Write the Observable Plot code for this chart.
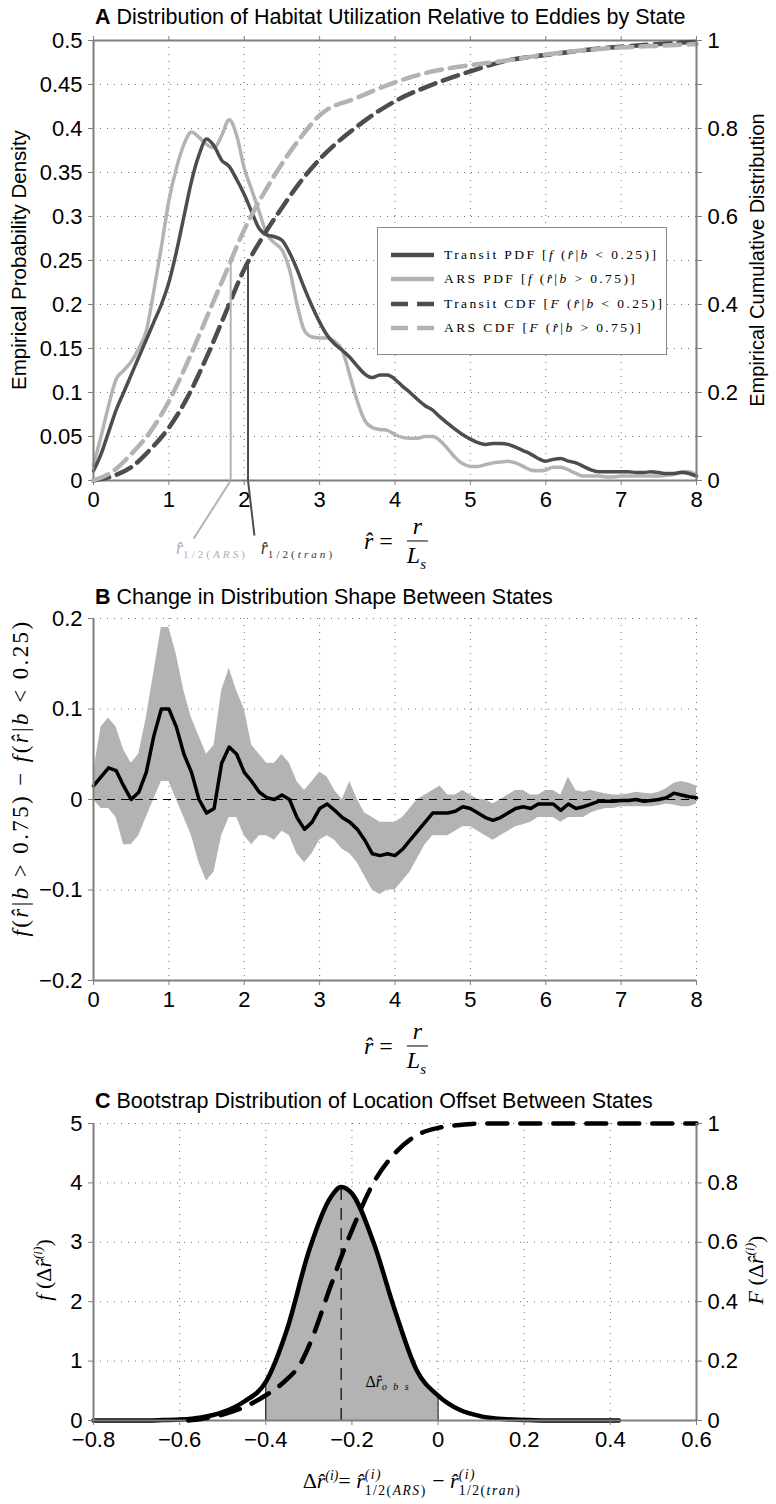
<!DOCTYPE html>
<html>
<head>
<meta charset="utf-8">
<script src="https://cdn.jsdelivr.net/npm/d3@7"></script>
<script src="https://cdn.jsdelivr.net/npm/@observablehq/plot@0.6"></script>
<style>
html,body{margin:0;padding:0;background:#fff;}
#root{position:relative;width:776px;height:1504px;overflow:hidden;background:#fff;}
.t{position:absolute;white-space:nowrap;font-family:"Liberation Sans",Arial,sans-serif;font-size:21.5px;color:#000;line-height:1;}
.t b{font-weight:bold;}
.lab{position:absolute;white-space:nowrap;font-family:"Liberation Sans",Arial,sans-serif;font-size:20px;color:#000;line-height:1;}
.m{position:absolute;white-space:nowrap;font-family:"Liberation Serif","DejaVu Serif",serif;color:#000;line-height:1;}
.i{font-style:italic;}
.frac{display:inline-flex;flex-direction:column;align-items:center;vertical-align:middle;margin-left:8px;}
.frac .num{border-bottom:1.5px solid #000;padding:0 6px 2px 6px;}
.frac .den{padding-top:2px;}
.sub{font-size:0.62em;letter-spacing:2px;vertical-align:-0.35em;font-style:italic;}
.ss{display:inline-flex;flex-direction:column;vertical-align:middle;font-size:0.62em;line-height:1.15;letter-spacing:1.5px;}
.legend{position:absolute;background:#fff;border:1px solid #8a8a8a;}
.legend .row{position:absolute;left:66px;white-space:nowrap;font-family:"Liberation Serif","DejaVu Serif",serif;font-size:13.5px;letter-spacing:2.4px;line-height:1;transform:translateY(-50%);}
.legend svg{position:absolute;left:0;top:0;}
</style>
</head>
<body>
<div id="root"></div>
<script>
// ---------------- DATA ----------------
// Panel A: empirical PDFs sampled every 0.1 in r-hat (0 .. 8)
const rGrid = d3.range(0, 81).map(i => +(i / 10).toFixed(1));
const transitPDF = [
  0.011,0.03,0.055,0.08,0.1,0.12,0.14,0.16,0.18,0.2,
  0.225,0.26,0.3,0.34,0.37,0.388,0.38,0.364,0.357,0.342,
  0.325,0.305,0.286,0.279,0.277,0.273,0.259,0.24,0.218,0.198,
  0.18,0.165,0.155,0.148,0.14,0.13,0.121,0.117,0.12,0.12,
  0.115,0.107,0.1,0.092,0.085,0.08,0.072,0.065,0.058,0.052,
  0.047,0.043,0.041,0.042,0.042,0.041,0.038,0.034,0.03,0.025,
  0.022,0.024,0.025,0.022,0.02,0.016,0.012,0.01,0.01,0.01,
  0.01,0.01,0.009,0.009,0.01,0.009,0.008,0.008,0.009,0.008,
  0.005];
const arsPDF = [
  0.017,0.05,0.085,0.115,0.125,0.135,0.15,0.17,0.215,0.265,
  0.318,0.355,0.382,0.396,0.39,0.382,0.378,0.392,0.41,0.392,
  0.355,0.33,0.305,0.28,0.27,0.262,0.24,0.2,0.17,0.163,
  0.162,0.162,0.158,0.148,0.12,0.09,0.068,0.06,0.058,0.057,
  0.052,0.049,0.048,0.048,0.05,0.05,0.045,0.036,0.026,0.019,
  0.016,0.016,0.018,0.02,0.021,0.022,0.02,0.016,0.012,0.011,
  0.012,0.015,0.015,0.012,0.008,0.005,0.005,0.005,0.004,0.004,
  0.005,0.005,0.005,0.005,0.005,0.005,0.006,0.007,0.01,0.01,
  0.006];
// Panel A: empirical CDFs (right axis)
const cdfGrid   = [0,0.25,0.5,0.75,1,1.25,1.5,1.75,2,2.25,2.5,2.75,3,3.5,4,4.5,5,5.5,6,6.5,7,7.5,8];
const transitCDF = [0,0.01,0.03,0.07,0.12,0.19,0.28,0.38,0.48,0.555,0.62,0.68,0.73,0.805,0.862,0.9,0.93,0.955,0.967,0.978,0.986,0.992,0.997];
const arsCDF     = [0,0.02,0.06,0.11,0.18,0.27,0.37,0.47,0.57,0.65,0.72,0.78,0.83,0.87,0.905,0.93,0.944,0.955,0.968,0.978,0.984,0.988,0.992];
const medianARS = 1.82, medianTran = 2.05, medianLevel = 0.5;
const leaderARS = [1.33, -0.132], leaderTran = [2.135, -0.125];
const xTicksA = [0,1,2,3,4,5,6,7,8];
const yTicksA = [0,0.05,0.1,0.15,0.2,0.25,0.3,0.35,0.4,0.45,0.5];
const yTicksA2 = [0,0.1,0.2,0.3,0.4,0.5,0.6,0.7,0.8,0.9,1];

// Panel B: difference of PDFs with bootstrap band
const diffB = [
  0.015,0.025,0.035,0.032,0.015,0.0,0.008,0.03,0.07,0.1,
  0.1,0.08,0.05,0.03,0.0,-0.015,-0.01,0.04,0.058,0.05,
  0.03,0.02,0.008,0.002,0.0,0.005,0.0,-0.02,-0.033,-0.025,
  -0.01,-0.005,-0.012,-0.02,-0.025,-0.033,-0.045,-0.06,-0.062,-0.06,
  -0.062,-0.055,-0.045,-0.035,-0.025,-0.015,-0.015,-0.015,-0.013,-0.008,
  -0.01,-0.015,-0.02,-0.023,-0.02,-0.015,-0.01,-0.008,-0.01,-0.005,
  -0.005,-0.005,-0.012,-0.005,-0.01,-0.008,-0.005,-0.002,-0.002,-0.002,
  -0.001,-0.001,0.0,-0.002,-0.001,0.0,0.002,0.007,0.005,0.003,
  0.002];
const upperB = [
  0.03,0.08,0.09,0.08,0.055,0.04,0.05,0.09,0.14,0.19,
  0.19,0.16,0.12,0.09,0.07,0.05,0.06,0.12,0.145,0.12,
  0.1,0.06,0.05,0.04,0.04,0.05,0.04,0.02,0.01,0.02,
  0.03,0.025,0.01,0.0,0.02,0.0,-0.015,-0.02,-0.025,-0.025,
  -0.025,-0.02,-0.01,0.0,0.005,0.01,0.015,0.005,0.005,0.01,
  0.005,0.0,0.0,-0.005,0.0,0.005,0.01,0.01,0.005,0.005,
  0.01,0.01,0.005,0.025,0.01,0.008,0.01,0.008,0.006,0.005,
  0.005,0.006,0.008,0.007,0.006,0.008,0.012,0.018,0.02,0.018,
  0.015];
const lowerB = [
  0.0,-0.01,-0.01,-0.02,-0.05,-0.05,-0.04,-0.02,0.0,0.02,
  0.02,0.0,-0.02,-0.04,-0.07,-0.09,-0.08,-0.04,-0.02,-0.02,
  -0.04,-0.05,-0.04,-0.04,-0.045,-0.035,-0.04,-0.06,-0.07,-0.06,
  -0.045,-0.04,-0.045,-0.055,-0.06,-0.07,-0.085,-0.1,-0.105,-0.1,
  -0.1,-0.09,-0.08,-0.065,-0.05,-0.04,-0.04,-0.04,-0.035,-0.03,
  -0.03,-0.035,-0.04,-0.045,-0.04,-0.035,-0.03,-0.028,-0.025,-0.02,
  -0.02,-0.02,-0.025,-0.02,-0.02,-0.02,-0.015,-0.012,-0.01,-0.01,
  -0.008,-0.008,-0.008,-0.008,-0.008,-0.007,-0.005,-0.006,-0.008,-0.008,
  -0.005];
const yTicksB = [-0.2,-0.1,0,0.1,0.2];

// Panel C: bootstrap distribution of the location offset
const dC   = [-0.8,-0.75,-0.7,-0.65,-0.6,-0.55,-0.5,-0.45,-0.4,-0.35,-0.3,-0.25,-0.225,-0.2,-0.15,-0.1,-0.05,0,0.05,0.1,0.15,0.2,0.25,0.3,0.35,0.42];
const pdfC = [0,0,0,0.005,0.015,0.05,0.14,0.32,0.65,1.55,2.85,3.75,3.93,3.82,3.0,1.85,0.85,0.42,0.18,0.07,0.025,0.01,0,0,0,0];
const cdfCx = [-0.58,-0.55,-0.5,-0.45,-0.4,-0.35,-0.32,-0.3,-0.25,-0.225,-0.2,-0.15,-0.1,-0.05,0,0.05,0.1,0.15,0.6];
const cdfC  = [0,0.005,0.02,0.045,0.085,0.14,0.19,0.25,0.45,0.55,0.64,0.8,0.9,0.96,0.985,0.995,1,1,1];
const ciLow = -0.4, ciHigh = 0, obsOffset = -0.225;
const xTicksC = [-0.8,-0.6,-0.4,-0.2,0,0.2,0.4,0.6];
const yTicksC = [0,1,2,3,4,5];
const yTicksC2 = [0,0.2,0.4,0.6,0.8,1];

// ---------------- STYLE ----------------
const DARK = "#4d4d4d", LIGHT = "#b3b3b3", BAND = "#b3b3b3", AX = "#7f7f7f";
const GRID = {stroke: "#555", strokeOpacity: 0.85, strokeDasharray: "1,6", strokeWidth: 1};
const baseStyle = {fontFamily: "'Liberation Sans', Arial, sans-serif", fontSize: "22px", color: "black", background: "transparent", overflow: "visible"};
const fmt = d => (d < 0 ? "\u2212" + Math.abs(d) : String(d));
const root = document.getElementById("root");
function put(el, top) { el.style.position = "absolute"; el.style.left = "0px"; el.style.top = top + "px"; root.appendChild(el); }
function place(cls, html, cx, cy, rot, extra) {
  const d = document.createElement("div");
  d.className = cls; d.innerHTML = html;
  d.style.left = cx + "px"; d.style.top = cy + "px";
  d.style.transform = "translate(-50%,-50%)" + (rot ? " rotate(" + rot + "deg)" : "");
  if (extra) Object.assign(d.style, extra);
  root.appendChild(d); return d;
}
function title(html, x, cy) {
  const d = document.createElement("div");
  d.className = "t"; d.innerHTML = html;
  d.style.left = x + "px"; d.style.top = cy + "px"; d.style.transform = "translateY(-50%)";
  root.appendChild(d);
}
const axisOpts = {tickSize: 5, tickPadding: 6, label: null, stroke: AX, color: "black", tickFormat: fmt};

// ---------------- PANEL A ----------------
const dataA = rGrid.map((r, i) => ({r, transit: transitPDF[i], ars: arsPDF[i]}));
const dataA2 = cdfGrid.map((r, i) => ({r, transit: transitCDF[i], ars: arsCDF[i]}));
const dimA = {width: 776, height: 570, marginTop: 40, marginBottom: 90, marginLeft: 93, marginRight: 80};
const A1 = Plot.plot({
  ...dimA, style: baseStyle,
  x: {domain: [0, 8]}, y: {domain: [0, 0.5]},
  marks: [
    Plot.gridX(xTicksA.slice(1, -1), GRID),
    Plot.gridY(yTicksA.slice(1, -1), GRID),
    Plot.lineY(dataA, {x: "r", y: "ars", stroke: LIGHT, strokeWidth: 3.5, curve: "monotone-x"}),
    Plot.lineY(dataA, {x: "r", y: "transit", stroke: DARK, strokeWidth: 3.5, curve: "monotone-x"}),
    Plot.ruleX([0], {stroke: AX, strokeWidth: 2}),
    Plot.ruleY([0], {stroke: AX, strokeWidth: 2}),
    Plot.ruleY([0.5], {stroke: AX, strokeWidth: 2}),
    Plot.axisX({...axisOpts, anchor: "bottom", ticks: xTicksA}),
    Plot.axisX({...axisOpts, anchor: "top", ticks: xTicksA, tickFormat: () => ""}),
    Plot.axisY({...axisOpts, anchor: "left", ticks: yTicksA})
  ]
});
put(A1, 0);
const A2 = Plot.plot({
  ...dimA, style: baseStyle,
  x: {domain: [0, 8], axis: null}, y: {domain: [0, 1]},
  marks: [
    Plot.lineY(dataA2, {x: "r", y: "transit", stroke: DARK, strokeWidth: 4.5, strokeDasharray: "16,8", curve: "monotone-x"}),
    Plot.lineY(dataA2, {x: "r", y: "ars", stroke: LIGHT, strokeWidth: 4.5, strokeDasharray: "16,8", curve: "monotone-x"}),
    Plot.ruleX([medianARS], {y1: 0, y2: medianLevel, stroke: LIGHT, strokeWidth: 2}),
    Plot.ruleX([medianTran], {y1: 0, y2: medianLevel, stroke: DARK, strokeWidth: 2}),
    Plot.link([0], {x1: () => medianARS, y1: () => 0, x2: () => leaderARS[0], y2: () => leaderARS[1], stroke: LIGHT, strokeWidth: 2}),
    Plot.link([0], {x1: () => medianTran, y1: () => 0, x2: () => leaderTran[0], y2: () => leaderTran[1], stroke: DARK, strokeWidth: 2}),
    Plot.ruleX([8], {stroke: AX, strokeWidth: 2}),
    Plot.axisY({...axisOpts, anchor: "right", ticks: yTicksA2, tickFormat: d => (Math.round(d * 10) % 2 === 0 ? String(d) : "")})
  ]
});
put(A2, 0);
title("<b>A</b> Distribution of Habitat Utilization Relative to Eddies by State", 95, 18);
place("lab", "Empirical Probability Density", 19, 260, -90, {fontSize: "20.5px"});
place("lab", "Empirical Cumulative Distribution", 757, 260, -90);
// median labels
place("m", '<span class="i">r\u0302</span><span class="sub" style="font-style:normal;letter-spacing:3px">1/2(<i>ARS</i>)</span>', 212, 550, 0, {color: "#b0b0b0", fontSize: "18px"});
place("m", '<span class="i">r\u0302</span><span class="sub" style="font-style:normal;letter-spacing:3px">1/2(<i>tran</i>)</span>', 298, 550, 0, {color: "#3a3a3a", fontSize: "18px"});
const fracHTML = '<span class="i">r\u0302</span>&nbsp;=&nbsp;<span class="frac"><span class="num i">r</span><span class="den"><span class="i">L</span><span class="sub">s</span></span></span>';
place("m", fracHTML, 396, 543, 0, {fontSize: "24px"});
// legend
(function () {
  const L = document.createElement("div");
  L.className = "legend";
  Object.assign(L.style, {left: "377px", top: "227px", width: "288px", height: "126px"});
  const rows = [
    {y: 27, stroke: DARK, dash: null, html: 'Transit PDF [<i>f</i> (<i>r\u0302</i>|<i>b</i> &lt; 0.25)]'},
    {y: 51, stroke: LIGHT, dash: null, html: 'ARS PDF [<i>f</i> (<i>r\u0302</i>|<i>b</i> &gt; 0.75)]'},
    {y: 76, stroke: DARK, dash: "17,9", html: 'Transit CDF [<i>F</i> (<i>r\u0302</i>|<i>b</i> &lt; 0.25)]'},
    {y: 100, stroke: LIGHT, dash: "17,9", html: 'ARS CDF [<i>F</i> (<i>r\u0302</i>|<i>b</i> &gt; 0.75)]'}
  ];
  let svg = '<svg width="288" height="126">';
  for (const r of rows) svg += `<line x1="13" x2="56" y1="${r.y}" y2="${r.y}" stroke="${r.stroke}" stroke-width="4.5" ${r.dash ? `stroke-dasharray="${r.dash}"` : ""}/>`;
  svg += "</svg>";
  L.innerHTML = svg + rows.map(r => `<div class="row" style="top:${r.y}px">${r.html}</div>`).join("");
  root.appendChild(L);
})();

// ---------------- PANEL B ----------------
const dataB = rGrid.map((r, i) => ({r, d: diffB[i], lo: lowerB[i], hi: upperB[i]}));
const B = Plot.plot({
  width: 776, height: 470, marginTop: 48, marginBottom: 60, marginLeft: 93, marginRight: 80, style: baseStyle,
  x: {domain: [0, 8]}, y: {domain: [-0.2, 0.2]},
  marks: [
    Plot.gridX(xTicksA.slice(1), GRID),
    Plot.gridY([-0.1, 0.1, 0.2], GRID),
    Plot.areaY(dataB, {x: "r", y1: "lo", y2: "hi", fill: BAND}),
    Plot.ruleY([0], {stroke: "black", strokeWidth: 1, strokeDasharray: "8,6"}),
    Plot.lineY(dataB, {x: "r", y: "d", stroke: "black", strokeWidth: 3.5}),
    Plot.ruleX([0], {stroke: AX, strokeWidth: 2}),
    Plot.ruleY([-0.2], {stroke: AX, strokeWidth: 2}),
    Plot.axisX({...axisOpts, anchor: "bottom", ticks: xTicksA}),
    Plot.axisY({...axisOpts, anchor: "left", ticks: yTicksB})
  ]
});
put(B, 570);
title("<b>B</b> Change in Distribution Shape Between States", 95, 598);
place("m", '<span class="i">f</span>(<span class="i">r\u0302</span>|<span class="i">b</span> &gt; 0.75) \u2212 <span class="i">f</span>(<span class="i">r\u0302</span>|<span class="i">b</span> &lt; 0.25)', 20, 778, -90, {fontSize: "23px", letterSpacing: "2.4px"});
place("m", fracHTML, 396, 1048, 0, {fontSize: "24px"});

// ---------------- PANEL C ----------------
const dataC = dC.map((x, i) => ({x, pdf: pdfC[i]}));
const dataC2 = cdfCx.map((x, i) => ({x, cdf: cdfC[i]}));
const dimC = {width: 776, height: 464, marginTop: 83, marginBottom: 84, marginLeft: 93, marginRight: 80};
const C1 = Plot.plot({
  ...dimC, style: baseStyle,
  x: {domain: [-0.8, 0.6]}, y: {domain: [0, 5]},
  marks: [
    Plot.gridX(xTicksC.slice(1, -1), GRID),
    Plot.gridY(yTicksC.slice(1), GRID),
    Plot.areaY(dataC.filter(d => d.x >= ciLow && d.x <= ciHigh), {x: "x", y: "pdf", fill: BAND, curve: "monotone-x"}),
    Plot.ruleX(dataC.filter(d => d.x === ciLow || d.x === ciHigh), {x: "x", y1: 0, y2: "pdf", stroke: "black", strokeWidth: 1}),
    Plot.ruleX(dataC.filter(d => d.x === obsOffset), {x: "x", y1: 0, y2: "pdf", stroke: "black", strokeWidth: 1.2, strokeDasharray: "12,8"}),
    Plot.lineY(dataC, {x: "x", y: "pdf", stroke: "black", strokeWidth: 4.5, curve: "monotone-x"}),
    Plot.ruleX([-0.8], {stroke: AX, strokeWidth: 2}),
    Plot.ruleY([0], {stroke: AX, strokeWidth: 2}),
    Plot.axisX({...axisOpts, anchor: "bottom", ticks: xTicksC}),
    Plot.axisY({...axisOpts, anchor: "left", ticks: yTicksC})
  ]
});
put(C1, 1040);
const C2 = Plot.plot({
  ...dimC, style: baseStyle,
  x: {domain: [-0.8, 0.6], axis: null}, y: {domain: [0, 1]},
  marks: [
    Plot.lineY(dataC2, {x: "x", y: "cdf", stroke: "black", strokeWidth: 4.5, strokeDasharray: "20,13", curve: "monotone-x"}),
    Plot.ruleX([0.6], {stroke: AX, strokeWidth: 2}),
    Plot.axisY({...axisOpts, anchor: "right", ticks: yTicksC2})
  ]
});
put(C2, 1040);
title("<b>C</b> Bootstrap Distribution of Location Offset Between States", 95, 1102);
place("m", '<span class="i">f</span> (\u0394<span class="i">r\u0302</span><sup class="i" style="font-size:0.6em">(i)</sup>)', 43, 1270, -90, {fontSize: "22px"});
place("m", '<span class="i">F</span> (\u0394<span class="i">r\u0302</span><sup class="i" style="font-size:0.6em">(i)</sup>)', 755, 1270, -90, {fontSize: "22px"});
place("m", '\u0394<span class="i">r\u0302</span><span class="sub">o b s</span>', 388, 1383, 0, {fontSize: "16px"});
place("m", '\u0394<span class="i">r\u0302</span><sup class="i" style="font-size:0.62em">(i)</sup>= <span class="i">r\u0302</span><span class="ss"><span class="i">(i)</span><span>1/2(<i>ARS</i>)</span></span> \u2212 <span class="i">r\u0302</span><span class="ss"><span class="i">(i)</span><span>1/2(<i>tran</i>)</span></span>', 412, 1483, 0, {fontSize: "22px"});
</script>
</body>
</html>
